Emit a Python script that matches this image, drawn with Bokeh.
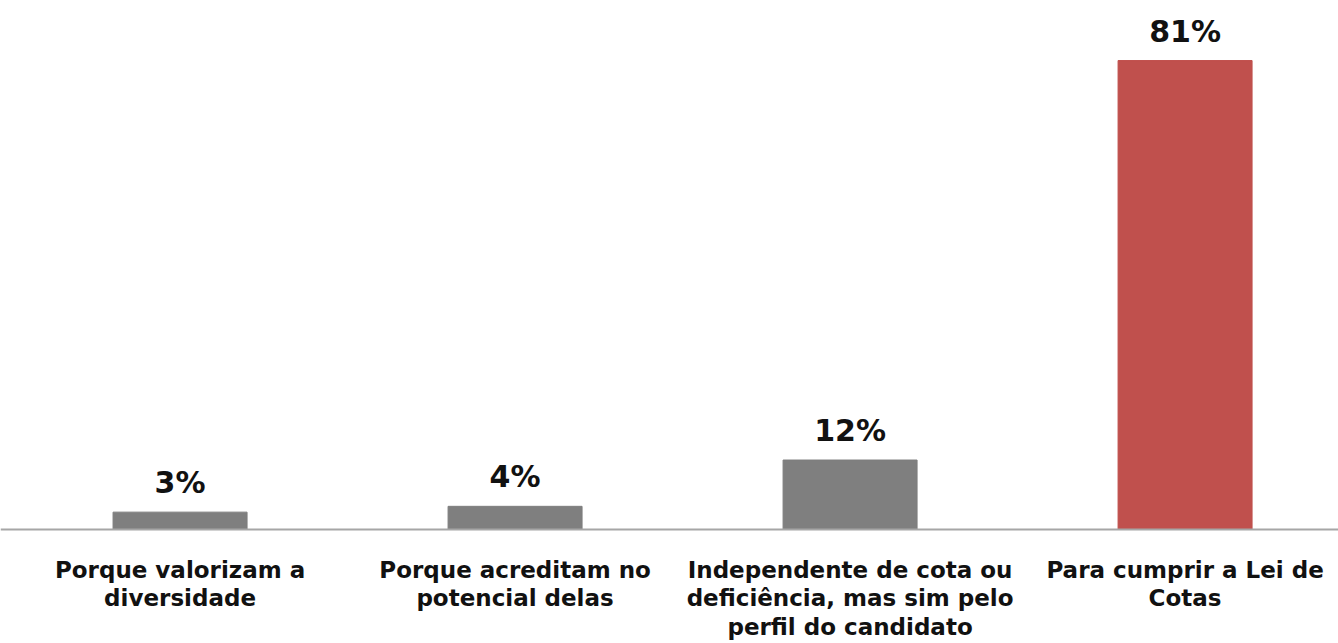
from bokeh.plotting import figure
from bokeh.models import ColumnDataSource, Range1d, LabelSet, Span
from bokeh.core.properties import value
from bokeh.embed import file_html
from bokeh.resources import INLINE

categories = ["Porque valorizam a\ndiversidade",
              "Porque acreditam no\npotencial delas",
              "Independente de cota ou\ndeficiência, mas sim pelo\nperfil do candidato",
              "Para cumprir a Lei de\nCotas"]
values = [3, 4, 12, 81]
labels = ["3%", "4%", "12%", "81%"]
colors = ["#7f7f7f", "#7f7f7f", "#7f7f7f", "#c0504d"]

xs = [i + 0.5 for i in range(len(categories))]
src = ColumnDataSource(dict(x=xs, top=values, color=colors, label=labels,
                            cat=categories, zero=[0] * len(xs)))

p = figure(width=1338, height=643, output_backend="svg", toolbar_location=None,
           x_range=Range1d(-0.036, 3.958), y_range=Range1d(-19.69, 91.37),
           min_border_left=0, min_border_right=0, min_border_top=0, min_border_bottom=0)
p.vbar(x="x", top="top", width=0.4, color="color", source=src)
p.add_layout(LabelSet(x="x", y="top", text="label", source=src, text_align="center",
                      y_offset=12, text_font=value("DejaVu Sans"), text_font_style="bold",
                      text_font_size="30px", text_color="#111111"))

# category labels below the baseline
p.text(x="x", y="zero", text="cat", source=src, text_align="center", text_baseline="top",
       y_offset=27, text_font=value("DejaVu Sans"), text_font_style="bold",
       text_font_size="23px", text_color="#111111", text_line_height=1.1)

# baseline (category axis line)
p.add_layout(Span(location=0, dimension="width", line_color="#a6a6a6", line_width=2))

p.axis.visible = False
p.xgrid.visible = False
p.ygrid.visible = False
p.outline_line_color = None
p.background_fill_color = "white"
p.border_fill_color = "white"

open("out.html", "w").write(file_html(p, INLINE))
